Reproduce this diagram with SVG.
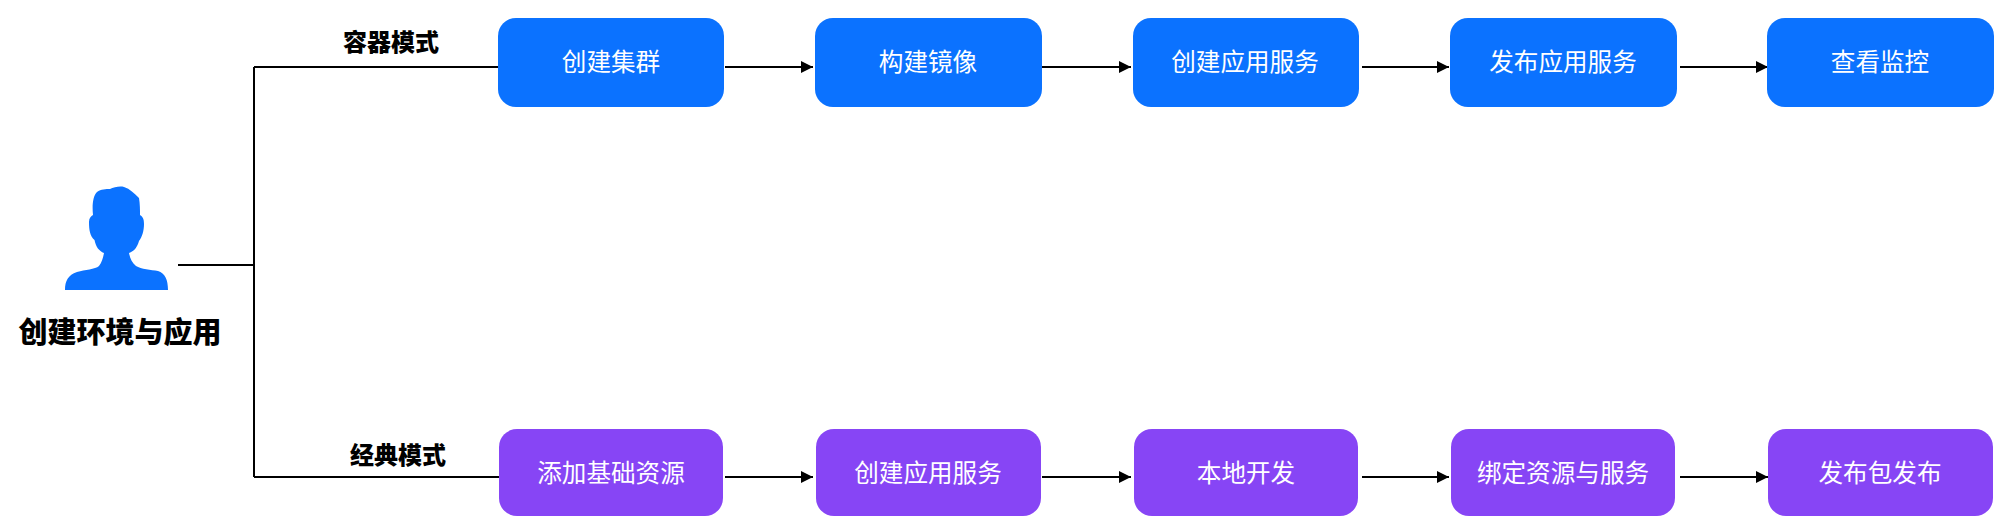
<svg xmlns="http://www.w3.org/2000/svg" width="1994" height="516" viewBox="0 0 1994 516">
<style>
text{font-family:"Noto Sans CJK SC","Noto Sans",sans-serif;text-anchor:middle;dominant-baseline:central}
.t{font-size:24.6px;fill:#fff}
.l{font-size:24px;font-weight:900;fill:#000}
.h{font-size:29px;font-weight:900;fill:#000}
.b{fill:#0B72FF}
.p{fill:#8745F5}
.c{fill:none;stroke:#000;stroke-width:2}
</style>
<defs><marker id="a" markerUnits="userSpaceOnUse" markerWidth="12" markerHeight="12" refX="12" refY="6" orient="auto"><path d="M0 0L12 6L0 12Z" fill="#000"/></marker></defs>
<rect width="1994" height="516" fill="#fff"/>
<g id="connectors">
<path class="c" d="M178 265H254M254 67V477M254 67H499M254 477H499"/>
<path class="c" marker-end="url(#a)" d="M725 67H813"/>
<path class="c" marker-end="url(#a)" d="M1042 67H1131"/>
<path class="c" marker-end="url(#a)" d="M1362 67H1449"/>
<path class="c" marker-end="url(#a)" d="M1680 67H1768"/>
<path class="c" marker-end="url(#a)" d="M725 477H813"/>
<path class="c" marker-end="url(#a)" d="M1042 477H1131"/>
<path class="c" marker-end="url(#a)" d="M1362 477H1449"/>
<path class="c" marker-end="url(#a)" d="M1680 477H1768"/>
</g>
<g id="person">
<path class="b" d="M65 290C65 281 68 275 77 272C85 269.500 95 269.500 99 266C102 262 103 258 104 253C99 251 96 247 94.500 240C90 236 89 230 89 222C89 218 91 216 93 215C92 205 93 196 97 192C101 189 106 189 110 189C114 187 120 186 124 187C130 189 134 193 139 198C140 204 140 210 140 215C143 217 144 219 144 224C144 231 142 237 139 241C137 248 134 251 129 253C130 258 132 263 136 266C141 269 151 270 158 271C165 273 168 280 168 290Z"/>
<text class="h" x="120" y="330">创建环境与应用</text>
</g>
<g id="label-container"><text class="l" x="391" y="40">容器模式</text></g>
<g id="label-classic"><text class="l" x="398" y="453">经典模式</text></g>
<g id="n1"><rect class="b" x="498" y="18" width="226" height="89" rx="18"/><text class="t" x="611" y="60">创建集群</text></g>
<g id="n2"><rect class="b" x="815" y="18" width="227" height="89" rx="18"/><text class="t" x="928" y="60">构建镜像</text></g>
<g id="n3"><rect class="b" x="1133" y="18" width="226" height="89" rx="18"/><text class="t" x="1245" y="60">创建应用服务</text></g>
<g id="n4"><rect class="b" x="1450" y="18" width="227" height="89" rx="18"/><text class="t" x="1563" y="60">发布应用服务</text></g>
<g id="n5"><rect class="b" x="1767" y="18" width="227" height="89" rx="18"/><text class="t" x="1880" y="60">查看监控</text></g>
<g id="n6"><rect class="p" x="499" y="429" width="224" height="87" rx="18"/><text class="t" x="611" y="471">添加基础资源</text></g>
<g id="n7"><rect class="p" x="816" y="429" width="225" height="87" rx="18"/><text class="t" x="928" y="471">创建应用服务</text></g>
<g id="n8"><rect class="p" x="1134" y="429" width="224" height="87" rx="18"/><text class="t" x="1246" y="471">本地开发</text></g>
<g id="n9"><rect class="p" x="1451" y="429" width="224" height="87" rx="18"/><text class="t" x="1563" y="471">绑定资源与服务</text></g>
<g id="n10"><rect class="p" x="1768" y="429" width="225" height="87" rx="18"/><text class="t" x="1880" y="471">发布包发布</text></g>
</svg>
